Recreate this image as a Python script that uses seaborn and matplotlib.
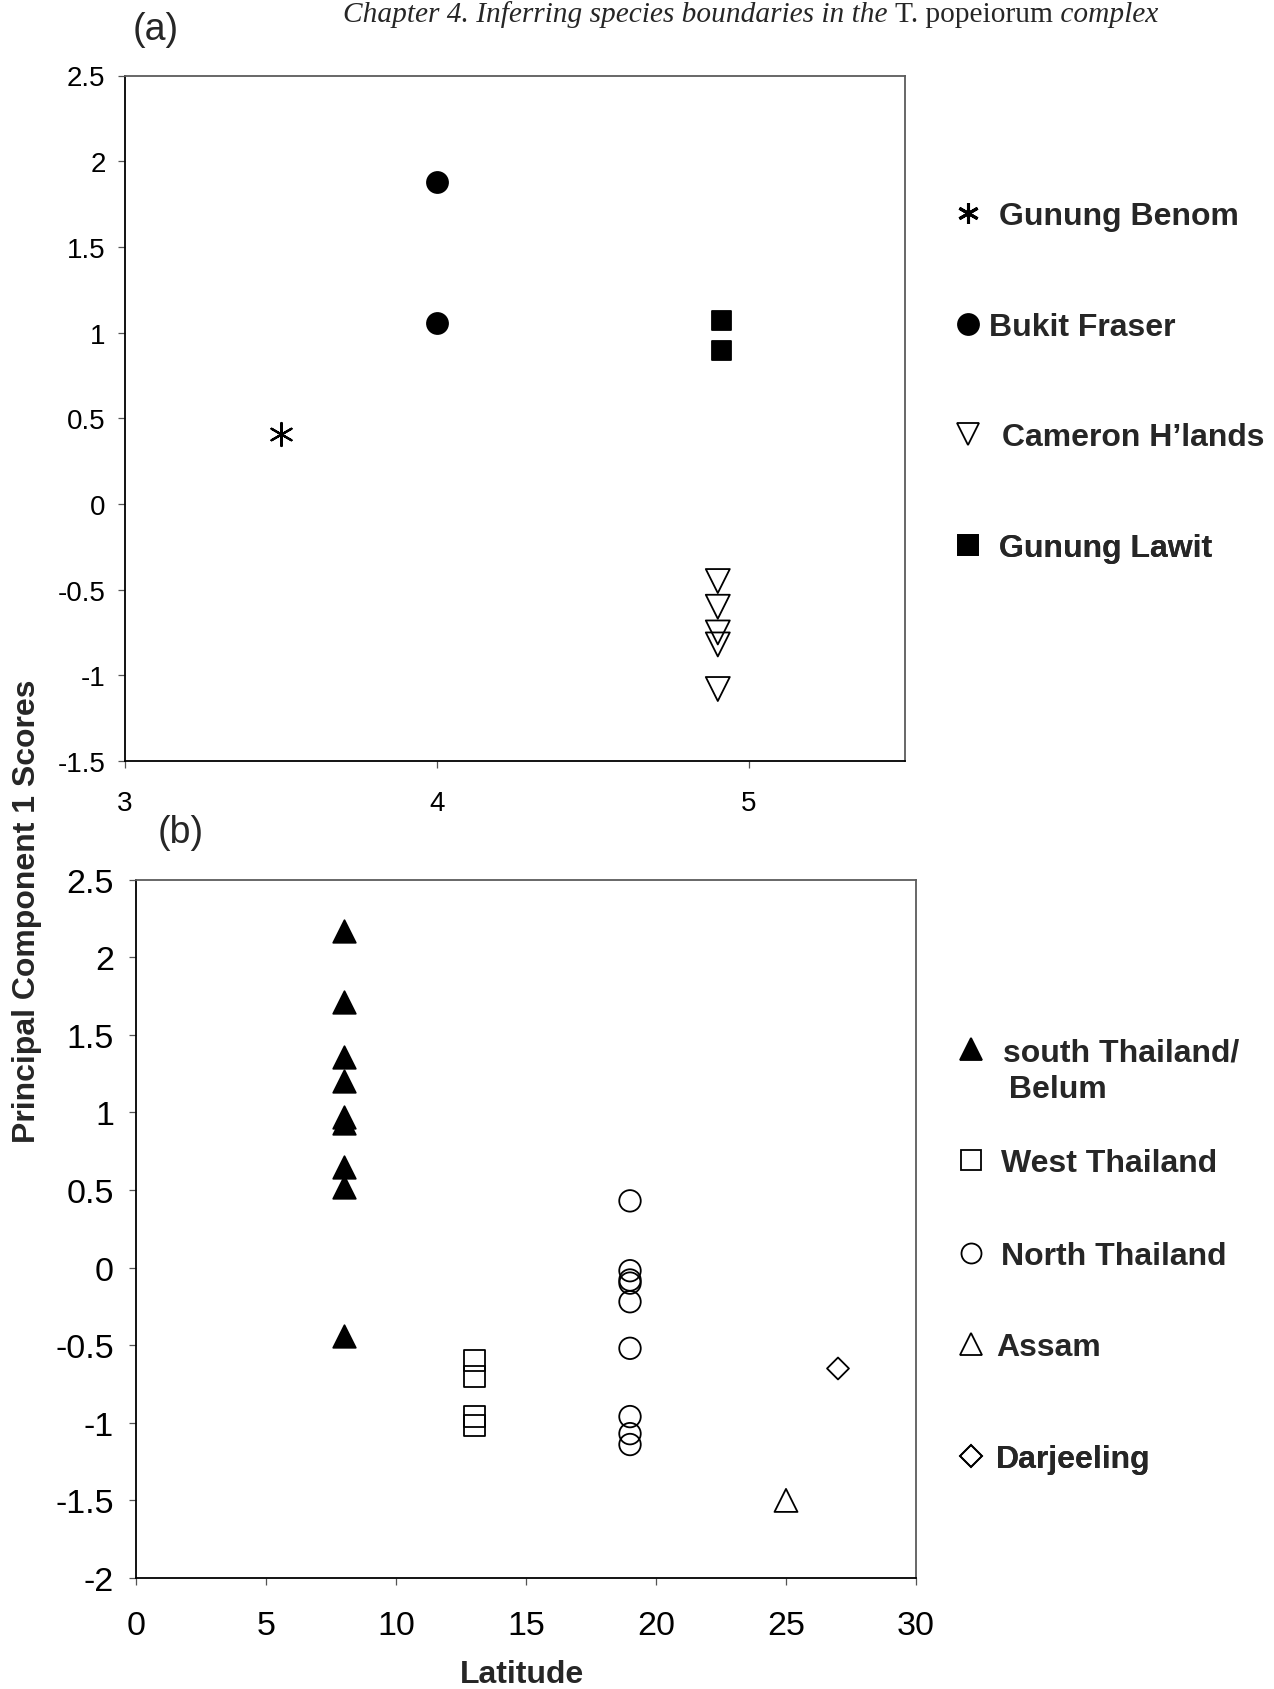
import matplotlib
matplotlib.use("Agg")
import matplotlib.pyplot as plt
import seaborn as sns
from matplotlib.lines import Line2D
from matplotlib.markers import MarkerStyle

# ---------------------------------------------------------------------------
# Panel (a): Malay Peninsula populations, PC1 score against latitude
# ---------------------------------------------------------------------------
benom_lat = [3.5]
benom_pc1 = [0.41]

fraser_lat = [4.0, 4.0]
fraser_pc1 = [1.88, 1.055]

cameron_lat = [4.9, 4.9, 4.9, 4.9, 4.9]
cameron_pc1 = [-0.45, -0.60, -0.75, -0.82, -1.08]

lawit_lat = [4.91, 4.91]
lawit_pc1 = [1.075, 0.90]

a_xticks = [3, 4, 5]
a_yticks = [-1.5, -1, -0.5, 0, 0.5, 1, 1.5, 2, 2.5]
a_yticklabels = ["-1.5", "-1", "-0.5", "0", "0.5", "1", "1.5", "2", "2.5"]
a_names = ["Gunung Benom", "Bukit Fraser", "Cameron H\u2019lands", "Gunung Lawit"]

# ---------------------------------------------------------------------------
# Panel (b): Thailand and Himalayan populations
# ---------------------------------------------------------------------------
south_lat = [8, 8, 8, 8, 8, 8, 8, 8, 8]
south_pc1 = [2.17, 1.71, 1.355, 1.20, 0.97, 0.93, 0.65, 0.52, -0.44]

west_lat = [13, 13, 13, 13]
west_pc1 = [-0.60, -0.70, -0.96, -1.02]

north_lat = [19, 19, 19, 19, 19, 19, 19, 19, 19]
north_pc1 = [0.43, -0.02, -0.08, -0.10, -0.22, -0.52, -0.96, -1.07, -1.14]

assam_lat = [25]
assam_pc1 = [-1.50]

darj_lat = [27]
darj_pc1 = [-0.65]

b_xticks = [0, 5, 10, 15, 20, 25, 30]
b_yticks = [-2, -1.5, -1, -0.5, 0, 0.5, 1, 1.5, 2, 2.5]
b_yticklabels = ["-2", "-1.5", "-1", "-0.5", "0", "0.5", "1", "1.5", "2", "2.5"]
b_names = ["south Thailand/", "West Thailand", "North Thailand", "Assam", "Darjeeling"]
b_name_cont = " Belum"

# ---------------------------------------------------------------------------
W, H = 1274, 1690
DPI = 100
PX = 72.0 / DPI          # points per pixel

sns.set_theme(style="white")
plt.rcParams["font.family"] = ["Liberation Sans", "DejaVu Sans"]

fig = plt.figure(figsize=(W / DPI, H / DPI), dpi=DPI)
fig.patch.set_facecolor("white")


def add_axes_px(left, top, right, bottom):
    return fig.add_axes([left / W, 1 - bottom / H, (right - left) / W, (bottom - top) / H])


ax_a = add_axes_px(125, 76.5, 905, 762)
ax_b = add_axes_px(136, 880.6, 916, 1579)

EDGE = "black"
LW = 1.3


def points(ax, x, y, marker, size_px, filled, lw=LW):
    # line-only markers (the asterisk) take their colour from the face colour
    line_only = not MarkerStyle(marker).is_filled()
    fc = "black" if (filled or line_only) else "none"
    kws = dict(facecolor=fc, linewidth=lw)
    if not line_only:
        kws["edgecolor"] = EDGE
    sns.scatterplot(x=x, y=y, ax=ax, marker=marker, s=(size_px * PX) ** 2,
                    zorder=3, legend=False, **kws)


# Panel (a) markers
points(ax_a, benom_lat, benom_pc1, (6, 2, 0), 23, False, lw=1.6)
points(ax_a, fraser_lat, fraser_pc1, "o", 21, True)
points(ax_a, cameron_lat, cameron_pc1, "v", 24, False)
points(ax_a, lawit_lat, lawit_pc1, "s", 19, True)

# Panel (b) markers
points(ax_b, south_lat, south_pc1, "^", 22.5, True)
points(ax_b, west_lat, west_pc1, "s", 21, False)
points(ax_b, north_lat, north_pc1, "o", 21.5, False)
points(ax_b, assam_lat, assam_pc1, "^", 23, False)
points(ax_b, darj_lat, darj_pc1, "D", 15.5, False)


def style_axes(ax, xlim, ylim, xticks, yticks, yticklabels, fs, xpad, ypad):
    ax.set_xlim(*xlim)
    ax.set_ylim(*ylim)
    ax.set_xticks(xticks)
    ax.set_xticklabels([str(t) for t in xticks])
    ax.set_yticks(yticks)
    ax.set_yticklabels(yticklabels)
    ax.set_xlabel("")
    ax.set_ylabel("")
    ax.set_facecolor("white")
    ax.grid(False)
    for side in ("left", "bottom"):
        ax.spines[side].set_color("black")
        ax.spines[side].set_linewidth(1.3)
    for side in ("top", "right"):
        ax.spines[side].set_color("#5c5c5c")
        ax.spines[side].set_linewidth(1.3)
    ax.tick_params(axis="both", which="major", direction="out", length=5,
                   width=0.9, color="#555555", labelsize=fs, labelcolor="black",
                   left=True, bottom=True, top=False, right=False)
    ax.tick_params(axis="x", pad=xpad)
    ax.tick_params(axis="y", pad=ypad)


style_axes(ax_a, (3, 5.5), (-1.5, 2.5), a_xticks, a_yticks, a_yticklabels, 20, 16, 9)
style_axes(ax_b, (0, 30), (-2, 2.5), b_xticks, b_yticks, b_yticklabels, 24.5, 18, 11)

# ---------------------------------------------------------------------------
# Legend keys, one per population
# ---------------------------------------------------------------------------
LEG_FS = 23
leg_fs_px = LEG_FS / PX
HL = 1.0


def key(ax, marker, size_px, filled, label, mx, my, tx, lw=LW):
    line_only = not MarkerStyle(marker).is_filled()
    handle = Line2D([], [], linestyle="none", marker=marker,
                    markersize=size_px * PX,
                    markerfacecolor="black" if (filled or line_only) else "none",
                    markeredgecolor="black", markeredgewidth=lw)
    anchor_x = mx - HL * leg_fs_px / 2
    pad = (tx - mx - HL * leg_fs_px / 2) / leg_fs_px
    leg = ax.legend(handles=[handle], labels=[label], loc="center left",
                    bbox_to_anchor=(anchor_x / W, 1 - my / H),
                    bbox_transform=fig.transFigure, frameon=False,
                    borderpad=0, borderaxespad=0, handlelength=HL,
                    handletextpad=pad,
                    prop={"family": "Liberation Sans", "weight": "bold", "size": LEG_FS})
    ax.add_artist(leg)


a_keys = [((6, 2, 0), 21, False, 2.2), ("o", 21, True, LW), ("v", 22, False, LW),
          ("s", 20, True, LW)]
a_key_y = [217, 328, 438, 549]
a_text_x = [999, 989, 1002, 999]
for (m, sz, f, lw), name, y, tx in zip(a_keys, a_names, a_key_y, a_text_x):
    key(ax_a, m, sz, f, name, 968, y, tx, lw=lw)

b_keys = [("^", 23, True), ("s", 20, False), ("o", 20, False), ("^", 22, False),
          ("D", 16, False)]
b_key_y = [1053, 1164, 1257, 1348, 1460]
b_text_x = [1003, 1001, 1001, 996, 996]
for (m, sz, f), name, y, tx in zip(b_keys, b_names, b_key_y, b_text_x):
    key(ax_b, m, sz, f, name, 971, y, tx)
fig.text(1000 / W, 1 - 1090 / H, b_name_cont, ha="left", va="center",
         fontsize=LEG_FS, fontweight="bold", family="Liberation Sans")

# ---------------------------------------------------------------------------
# Panel letters, shared axis titles and running header
# ---------------------------------------------------------------------------
fig.text(156 / W, 1 - 30 / H, "(a)", ha="center", va="center", fontsize=27)
fig.text(181 / W, 1 - 833 / H, "(b)", ha="center", va="center", fontsize=27)

fig.text(27 / W, 1 - 911 / H, "Principal Component 1 Scores", rotation=90,
         ha="center", va="center", fontsize=23, fontweight="bold")
fig.text(522 / W, 1 - 1675 / H, "Latitude", ha="center", va="center",
         fontsize=23, fontweight="bold")

header = [("Chapter 4. Inferring species boundaries in the ", "italic"),
          ("T. popeiorum", "normal"),
          (" complex", "italic")]
renderer = fig.canvas.get_renderer()
x0 = 343
for txt, st in header:
    t = fig.text(x0 / W, 1 - 22 / H, txt, ha="left", va="baseline",
                 fontsize=21.2, style=st, family="Liberation Serif")
    x0 = t.get_window_extent(renderer=renderer).x1

fig.savefig("out.png", dpi=DPI, facecolor="white")
